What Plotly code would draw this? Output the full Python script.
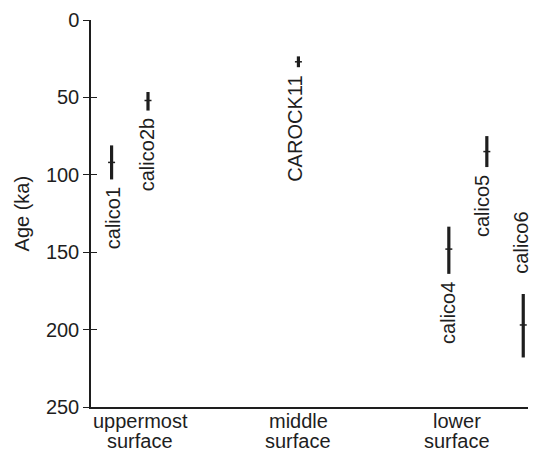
import plotly.graph_objects as go

# Data
category_line1 = ["uppermost", "middle", "lower"]
category_line2 = ["surface", "surface", "surface"]
category_pos = [1, 2, 3]
samples = ["calico1", "calico2b", "CAROCK11", "calico4", "calico5", "calico6"]
sample_x = [0.82, 1.05, 2.0, 2.95, 3.19, 3.42]
age = [92, 52, 27, 148, 85, 197]
err_minus = [11, 5.5, 3.5, 14.5, 10, 20]
err_plus = [11, 6.5, 3.5, 16, 10, 21]
label_side = ["below", "below", "below", "below", "below", "above"]
yticks = [0, 50, 100, 150, 200, 250]

# label pixel nudges (style only)
label_dx = [1, -1, -3, -1, -5, -2]

ink = "#1e1e1e"
font = "Liberation Sans, Arial, Helvetica, sans-serif"
fs = 20

fig = go.Figure()
fig.add_trace(go.Scatter(
    x=sample_x, y=age, mode="markers",
    marker=dict(symbol="line-ew", size=5, color=ink, line=dict(color=ink, width=1.5)),
    error_y=dict(type="data", symmetric=False, array=err_plus, arrayminus=err_minus,
                 thickness=3.2, width=0, color=ink),
    showlegend=False, hoverinfo="skip", cliponaxis=False,
))
# invisible trace on second y axis to activate it (inside tick marks)
fig.add_trace(go.Scatter(x=[sample_x[0]], y=[age[0]], yaxis="y2", mode="markers",
                         marker=dict(opacity=0), showlegend=False, hoverinfo="skip"))

annotations = []
for name, x, a, em, ep, side, dx in zip(samples, sample_x, age, err_minus, err_plus,
                                        label_side, label_dx):
    if side == "below":
        annotations.append(dict(x=x, y=a + ep + 4, xref="x", yref="y", text=name,
                                textangle=-90, showarrow=False, xanchor="center",
                                yanchor="top", xshift=dx,
                                font=dict(family=font, size=fs, color=ink)))
    else:
        annotations.append(dict(x=x, y=a - em - 12, xref="x", yref="y", text=name,
                                textangle=-90, showarrow=False, xanchor="center",
                                yanchor="bottom", xshift=dx,
                                font=dict(family=font, size=fs, color=ink)))
for x, l1, l2 in zip(category_pos, category_line1, category_line2):
    annotations.append(dict(x=x, y=0, xref="x", yref="paper", text=l1, showarrow=False,
                            xanchor="center", yanchor="top", yshift=-1,
                            font=dict(family=font, size=fs, color=ink)))
    annotations.append(dict(x=x, y=0, xref="x", yref="paper", text=l2, showarrow=False,
                            xanchor="center", yanchor="top", yshift=-21,
                            font=dict(family=font, size=fs, color=ink)))
annotations.append(dict(x=-0.158, y=0.5, xref="paper", yref="paper", text="Age (ka)",
                        textangle=-90, showarrow=False, xanchor="center", yanchor="middle",
                        font=dict(family=font, size=fs, color=ink)))

fig.update_layout(
    width=534, height=455,
    margin=dict(l=91, r=6, t=20, b=48),
    paper_bgcolor="white", plot_bgcolor="white",
    font=dict(family=font, size=fs, color=ink),
    xaxis=dict(range=[0.69, 3.45], tickvals=category_pos, showticklabels=False,
               showline=True, linecolor=ink, linewidth=1.5, ticks="", showgrid=False,
               zeroline=False),
    yaxis=dict(range=[250, 0], tickvals=yticks, showline=True, linecolor=ink, linewidth=1.5,
               ticks="outside", ticklen=6, tickwidth=1.3, tickcolor=ink, showgrid=False,
               zeroline=False, tickfont=dict(size=fs)),
    yaxis2=dict(range=[250, 0], tickvals=yticks, overlaying="y", side="left",
                ticks="inside", ticklen=6, tickwidth=1.3, tickcolor=ink, showticklabels=False,
                showgrid=False, zeroline=False, showline=False),
    annotations=annotations,
)
fig.write_html("out.html", config={"displayModeBar": False},
               post_script="document.body.style.margin='0';document.body.style.overflow='hidden';")
